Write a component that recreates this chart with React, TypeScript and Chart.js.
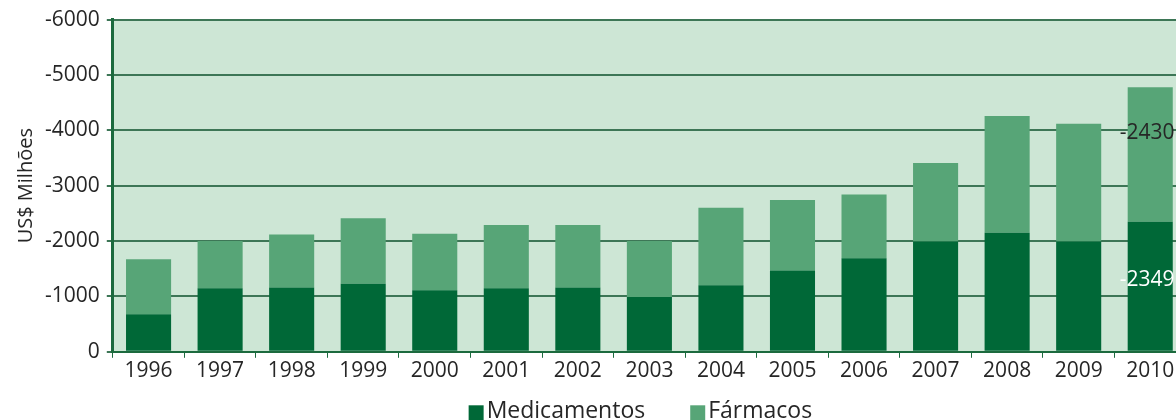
import React, { useEffect, useRef } from "react";
import { Chart, registerables } from "chart.js";

Chart.register(...registerables);

// Trade balance by year (US$ millions), stacked by product group
const years = ["1996", "1997", "1998", "1999", "2000", "2001", "2002", "2003", "2004", "2005", "2006", "2007", "2008", "2009", "2010"];
const medicamentos = [-680, -1150, -1160, -1230, -1110, -1150, -1160, -990, -1200, -1470, -1690, -1990, -2150, -1990, -2349];
const farmacos = [-990, -850, -960, -1180, -1020, -1140, -1130, -1010, -1400, -1270, -1150, -1420, -2110, -2130, -2430];
const yTicks = [0, -1000, -2000, -3000, -4000, -5000, -6000];

const DARK = "#006837";
const LIGHT = "#57a577";
const PLOT_BG = "#cde6d5";
const GRID = "#3d7656";
const AXIS = "#1c6a3e";
const TEXT = "#262626";
const FONT = "'Open Sans', sans-serif";

// Fills the plot area before anything else is drawn
const plotBackground = {
  id: "plotBackground",
  beforeDraw(chart: any) {
    const { ctx, chartArea } = chart;
    ctx.save();
    ctx.fillStyle = PLOT_BG;
    ctx.fillRect(chartArea.left, chartArea.top, chartArea.right - chartArea.left, chartArea.bottom - chartArea.top);
    ctx.restore();
  },
};

// Value labels on the last year's segments
const lastYearLabels = {
  id: "lastYearLabels",
  afterDatasetsDraw(chart: any) {
    const { ctx } = chart;
    const y = chart.scales.y;
    const last = years.length - 1;
    const specs = [
      { ds: 0, base: 0, frac: 0.55, color: "#ffffff" },
      { ds: 1, base: medicamentos[last], frac: 0.66, color: TEXT },
    ];
    ctx.save();
    ctx.font = `21px ${FONT}`;
    ctx.textAlign = "center";
    ctx.textBaseline = "middle";
    specs.forEach((s) => {
      const value = chart.data.datasets[s.ds].data[last] as number;
      const bar = chart.getDatasetMeta(s.ds).data[last];
      const py = y.getPixelForValue(s.base + value * s.frac);
      ctx.fillStyle = s.color;
      ctx.fillText(String(value), bar.x - 3, py);
    });
    ctx.restore();
  },
};

// Compact legend: square swatch tight against its label, centred under the plot
const compactLegend = {
  id: "compactLegend",
  afterDraw(chart: any) {
    const { ctx, chartArea } = chart;
    const box = 15;
    const gapText = 3;
    const gapItem = 45;
    ctx.save();
    ctx.font = `23px ${FONT}`;
    ctx.textBaseline = "middle";
    ctx.textAlign = "left";
    const items = chart.data.datasets.map((ds: any) => ({
      label: ds.label as string,
      color: ds.backgroundColor as string,
      w: ctx.measureText(ds.label).width,
    }));
    const total = items.reduce((s: number, it: any) => s + box + gapText + it.w, 0) + gapItem * (items.length - 1);
    let x = (chartArea.left + chartArea.right) / 2 - 9 - total / 2;
    const cy = chartArea.bottom + 60;
    items.forEach((it: any) => {
      ctx.fillStyle = it.color;
      ctx.fillRect(x, cy - box / 2 + 1, box, box);
      x += box + gapText;
      ctx.fillStyle = TEXT;
      ctx.fillText(it.label, x, cy);
      x += it.w + gapItem;
    });
    ctx.restore();
  },
};

function TradeChart() {
  const canvasRef = useRef<HTMLCanvasElement | null>(null);

  useEffect(() => {
    if (!canvasRef.current) return;
    const chart = new Chart(canvasRef.current, {
      type: "bar",
      data: {
        labels: years,
        datasets: [
          { label: "Medicamentos", data: medicamentos, backgroundColor: DARK, barPercentage: 0.63, categoryPercentage: 1 },
          { label: "Fármacos", data: farmacos, backgroundColor: LIGHT, barPercentage: 0.63, categoryPercentage: 1 },
        ],
      },
      options: {
        animation: false,
        responsive: true,
        maintainAspectRatio: false,
        layout: { padding: { left: 6, right: 14, top: 17, bottom: 35 } },
        plugins: {
          legend: { display: false },
          tooltip: { enabled: false },
        },
        scales: {
          x: {
            stacked: true,
            grid: { drawOnChartArea: false, drawTicks: true, tickLength: 6, color: AXIS, offset: true },
            border: { color: AXIS, width: 2 },
            ticks: { font: { family: FONT, size: 21 }, color: TEXT, padding: 1 },
          },
          y: {
            stacked: true,
            reverse: true,
            min: -6000,
            max: 0,
            afterBuildTicks(axis: any) {
              axis.ticks = yTicks.map((v) => ({ value: v }));
            },
            grid: { color: GRID, lineWidth: 2, tickLength: 6, drawTicks: true },
            border: { color: AXIS, width: 3 },
            ticks: {
              font: { family: FONT, size: 21 },
              color: TEXT,
              padding: 7,
              callback: (v: any) => String(v),
            },
            title: {
              display: true,
              text: "US$ Milhões",
              font: { family: FONT, size: 20 },
              color: TEXT,
              padding: { top: 8, bottom: 0 },
            },
          },
        },
      },
      plugins: [plotBackground, lastYearLabels, compactLegend],
    });
    return () => chart.destroy();
  }, []);

  return (
    <div style={{ position: "relative", width: 1200, height: 420 }}>
      <canvas ref={canvasRef} />
    </div>
  );
}

export default function App() {
  return (
    <div style={{ position: "absolute", left: 0, top: 0, width: 1176, height: 420, overflow: "hidden", background: "#ffffff" }}>
      <TradeChart />
    </div>
  );
}
